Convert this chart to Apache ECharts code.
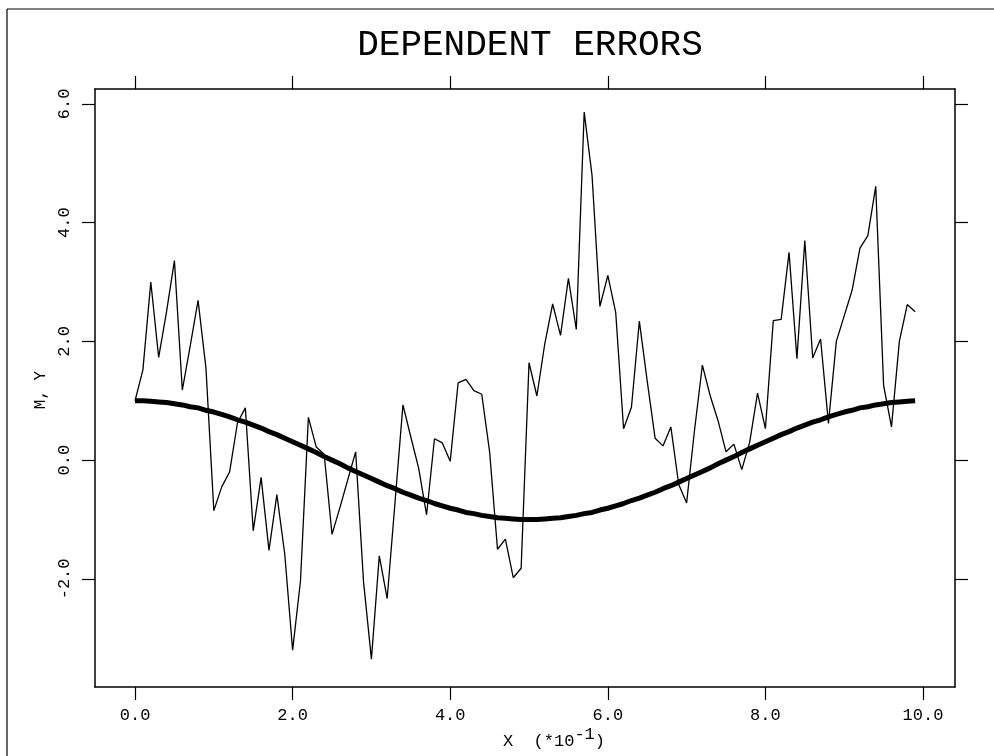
<!DOCTYPE html>
<html>
<head>
<meta charset="utf-8">
<script src="https://cdn.jsdelivr.net/npm/echarts@6/dist/echarts.min.js"></script>
<style>html,body{margin:0;padding:0;background:#fff;}#c{width:994px;height:756px;}</style>
</head>
<body>
<div id="c"></div>
<script>
// X values (units of 10^-1)
var xVals = [0.0,0.1,0.2,0.3,0.4,0.5,0.6,0.7,0.8,0.9,1.0,1.1,1.2,1.3,1.4,1.5,1.6,1.7,1.8,1.9,
2.0,2.1,2.2,2.3,2.4,2.5,2.6,2.7,2.8,2.9,3.0,3.1,3.2,3.3,3.4,3.5,3.6,3.7,3.8,3.9,
4.0,4.1,4.2,4.3,4.4,4.5,4.6,4.7,4.8,4.9,5.0,5.1,5.2,5.3,5.4,5.5,5.6,5.7,5.8,5.9,
6.0,6.1,6.2,6.3,6.4,6.5,6.6,6.7,6.8,6.9,7.0,7.1,7.2,7.3,7.4,7.5,7.6,7.7,7.8,7.9,
8.0,8.1,8.2,8.3,8.4,8.5,8.6,8.7,8.8,8.9,9.0,9.1,9.2,9.3,9.4,9.5,9.6,9.7,9.8,9.9];
// Observed Y (thin line)
var yVals = [1.0,1.52,3.0,1.73,2.5,3.36,1.18,1.92,2.69,1.55,
-0.85,-0.45,-0.2,0.63,0.88,-1.19,-0.29,-1.52,-0.58,-1.58,
-3.2,-2.03,0.72,0.22,0.1,-1.25,-0.8,-0.33,0.14,-2.05,
-3.35,-1.61,-2.33,-0.7,0.93,0.39,-0.14,-0.92,0.36,0.29,
-0.02,1.3,1.36,1.17,1.11,0.14,-1.5,-1.33,-1.98,-1.82,
1.64,1.08,1.96,2.63,2.1,3.06,2.2,5.86,4.79,2.59,
3.11,2.49,0.53,0.89,2.34,1.33,0.37,0.24,0.56,-0.41,
-0.72,0.5,1.6,1.08,0.66,0.14,0.27,-0.16,0.3,1.13,
0.53,2.35,2.37,3.5,1.71,3.7,1.72,2.04,0.62,2.0,
2.43,2.86,3.57,3.78,4.61,1.26,0.56,2.0,2.62,2.5];
// Mean M (thick line)
var mVals = [1.00,1.00,0.99,0.98,0.97,0.95,0.93,0.90,0.88,0.84,
0.81,0.77,0.73,0.68,0.64,0.59,0.54,0.48,0.43,0.37,
0.31,0.25,0.19,0.13,0.06,0.00,-0.06,-0.13,-0.19,-0.25,
-0.31,-0.37,-0.43,-0.48,-0.54,-0.59,-0.64,-0.68,-0.73,-0.77,
-0.81,-0.84,-0.88,-0.90,-0.93,-0.95,-0.97,-0.98,-0.99,-1.00,
-1.00,-1.00,-0.99,-0.98,-0.97,-0.95,-0.93,-0.90,-0.88,-0.84,
-0.81,-0.77,-0.73,-0.68,-0.64,-0.59,-0.54,-0.48,-0.43,-0.37,
-0.31,-0.25,-0.19,-0.13,-0.06,0.00,0.06,0.13,0.19,0.25,
0.31,0.37,0.43,0.48,0.54,0.59,0.64,0.68,0.73,0.77,
0.81,0.84,0.88,0.90,0.93,0.95,0.97,0.98,0.99,1.00];
var xTicks = [0, 2, 4, 6, 8, 10];
var yTicks = [-2, 0, 2, 4, 6];

var FONT = '"Liberation Mono", "DejaVu Sans Mono", monospace';
var chart = echarts.init(document.getElementById('c'), null, {renderer: 'canvas'});
var ySeries = xVals.map(function (x, i) { return [x, yVals[i]]; });
var mSeries = xVals.map(function (x, i) { return [x, mVals[i]]; });

var lineCol = '#000';
function xAx(pos, labels) {
  return {
    type: 'value', position: pos, min: -0.508, max: 10.406,
    axisLine: {show: true, onZero: false, lineStyle: {color: lineCol, width: 1.5}},
    axisTick: {show: true, inside: false, length: 13, customValues: xTicks, lineStyle: {color: lineCol, width: 1.2}},
    axisLabel: {show: labels, customValues: xTicks, margin: 20, color: '#000', fontFamily: FONT, fontSize: 17,
      formatter: function (v) { return v.toFixed(1); }},
    splitLine: {show: false}
  };
}
function yAx(pos, labels) {
  return {
    type: 'value', position: pos, min: -3.82, max: 6.25,
    axisLine: {show: true, onZero: false, lineStyle: {color: lineCol, width: 1.5}},
    axisTick: {show: true, inside: false, length: 13, customValues: yTicks, lineStyle: {color: lineCol, width: 1.2}},
    axisLabel: {show: labels, customValues: yTicks, rotate: 90, margin: 22, color: '#000', fontFamily: FONT, fontSize: 17,
      formatter: function (v) { return v.toFixed(1); }},
    splitLine: {show: false}
  };
}

chart.setOption({
  animation: false,
  backgroundColor: '#fff',
  title: {
    text: 'DEPENDENT ERRORS', left: 525, top: 22, textAlign: 'center',
    textStyle: {fontFamily: FONT, fontSize: 36, fontWeight: 'normal', color: '#000'}
  },
  grid: {left: 95, top: 89, right: 39, bottom: 69, containLabel: false},
  xAxis: [xAx('bottom', true), xAx('top', false)],
  yAxis: [yAx('left', true), yAx('right', false)],
  graphic: [
    {type: 'line', shape: {x1: 7, y1: 9, x2: 7, y2: 756}, style: {stroke: '#000', lineWidth: 1.2}},
    {type: 'line', shape: {x1: 7, y1: 9, x2: 994, y2: 9}, style: {stroke: '#000', lineWidth: 1.2}},
    {type: 'text', left: 503, top: 726, style: {
      text: '{a|X  (*10}{s|-1}{a|)}',
      rich: {
        a: {fontFamily: FONT, fontSize: 17, fill: '#000', color: '#000', verticalAlign: 'bottom', lineHeight: 24},
        s: {fontFamily: FONT, fontSize: 17, fill: '#000', color: '#000', verticalAlign: 'top', padding: [0, 0, 8, 0], lineHeight: 24}
      }
    }},
    {type: 'text', x: 41, y: 390, rotation: Math.PI / 2, style: {
      text: 'M, Y', fontFamily: FONT, fontSize: 16, fill: '#000', textAlign: 'center', textVerticalAlign: 'middle'
    }}
  ],
  series: [
    {type: 'line', name: 'Y', data: ySeries, showSymbol: false, symbol: 'none',
      lineStyle: {color: '#000', width: 1.3}, z: 3},
    {type: 'line', name: 'M', data: mSeries, showSymbol: false, symbol: 'none',
      lineStyle: {color: '#000', width: 5}, z: 2}
  ]
});
</script>
</body>
</html>
